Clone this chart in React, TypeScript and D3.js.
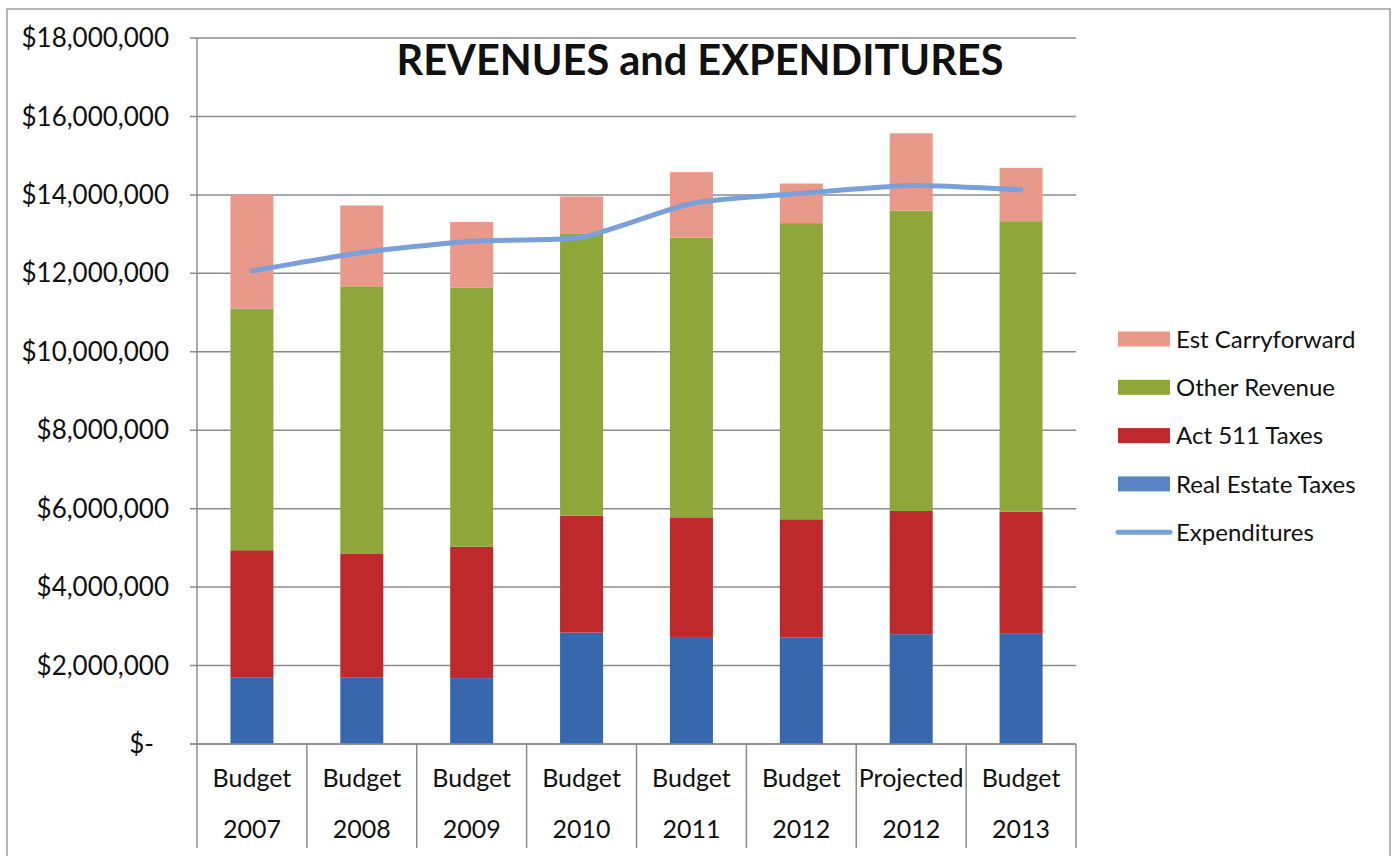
import { useEffect, useRef } from "react";
import * as d3 from "d3";

const categories = [
  ["Budget", "2007"],
  ["Budget", "2008"],
  ["Budget", "2009"],
  ["Budget", "2010"],
  ["Budget", "2011"],
  ["Budget", "2012"],
  ["Projected", "2012"],
  ["Budget", "2013"],
];

// values in $ millions, bottom of the stack first
const realEstateTaxes = [1.69, 1.69, 1.68, 2.84, 2.73, 2.72, 2.8, 2.81];
const act511Taxes = [3.25, 3.17, 3.35, 2.98, 3.05, 3.01, 3.14, 3.11];
const otherRevenue = [6.16, 6.81, 6.61, 7.2, 7.13, 7.55, 7.66, 7.41];
const estCarryforward = [2.91, 2.06, 1.67, 0.94, 1.67, 1.01, 1.97, 1.36];
const expenditures = [12.06, 12.53, 12.82, 12.92, 13.78, 14.04, 14.24, 14.13];

const yTicks = [0, 2, 4, 6, 8, 10, 12, 14, 16, 18];

const seriesNames = ["Real Estate Taxes", "Act 511 Taxes", "Other Revenue", "Est Carryforward"];
const barColors = ["#3768ae", "#be2a2c", "#8fa63a", "#e8998a"];
const legendColors = ["#5a84c4", "#be2a2c", "#8fa63a", "#e8998a"];
const lineColor = "#7aa0da";

const FONT = "Lato, 'Open Sans', sans-serif";

const App = () => {
  const svgRef = useRef<SVGSVGElement>(null);

  useEffect(() => {
    document.body.style.margin = "0";
    const svg = d3.select(svgRef.current);
    svg.selectAll("*").remove();

    const width = 1393;
    const height = 856;
    const left = 197;
    const right = 1076;
    const top = 38;
    const bottom = 744;
    const tableBottom = 848;

    svg.attr("width", width).attr("height", height);

    // outer chart frame
    svg
      .append("rect")
      .attr("x", 7)
      .attr("y", 9)
      .attr("width", 1383)
      .attr("height", 870)
      .attr("fill", "#fff")
      .attr("stroke", "#a0a0a0")
      .attr("stroke-width", 1.5);

    const idx = categories.map((_, i) => String(i));
    const x = d3.scaleBand().domain(idx).range([left, right]).paddingInner(0).paddingOuter(0);
    const y = d3.scaleLinear().domain([0, 18]).range([bottom, top]);

    // gridlines
    svg
      .append("g")
      .selectAll("line")
      .data(yTicks)
      .join("line")
      .attr("x1", left - 7)
      .attr("x2", right)
      .attr("y1", (d) => y(d))
      .attr("y2", (d) => y(d))
      .attr("stroke", "#8c8c8c")
      .attr("stroke-width", 1.5);

    // y labels
    svg
      .append("g")
      .selectAll("text")
      .data(yTicks)
      .join("text")
      .attr("x", (d) => (d === 0 ? 154 : 169))
      .attr("y", (d) => y(d))
      .attr("dy", "0.35em")
      .attr("text-anchor", "end")
      .style("font-family", FONT)
      .style("font-size", "26px")
      .attr("fill", "#111")
      .text((d) => (d === 0 ? "$-" : "$" + d3.format(",")(d * 1000000)));

    // stacked bars
    const rows = categories.map((_, i) => ({
      key: String(i),
      re: realEstateTaxes[i],
      act: act511Taxes[i],
      other: otherRevenue[i],
      carry: estCarryforward[i],
    }));
    const stack = d3.stack<any>().keys(["re", "act", "other", "carry"]);
    const layers = stack(rows);
    const barW = 43;

    svg
      .append("g")
      .selectAll("g")
      .data(layers)
      .join("g")
      .attr("fill", (_, i) => barColors[i])
      .selectAll("rect")
      .data((d) => d)
      .join("rect")
      .attr("x", (d) => x(d.data.key)! + x.bandwidth() / 2 - barW / 2)
      .attr("width", barW)
      .attr("y", (d) => y(d[1]))
      .attr("height", (d) => y(d[0]) - y(d[1]));

    // expenditures line
    const line = d3
      .line<number>()
      .x((_, i) => x(String(i))! + x.bandwidth() / 2)
      .y((d) => y(d))
      .curve(d3.curveCardinal.tension(0.4));
    svg
      .append("path")
      .datum(expenditures)
      .attr("d", line)
      .attr("fill", "none")
      .attr("stroke", lineColor)
      .attr("stroke-width", 5)
      .attr("stroke-linecap", "round");

    // axes and category table
    svg
      .append("line")
      .attr("x1", left - 7)
      .attr("x2", right)
      .attr("y1", bottom)
      .attr("y2", bottom)
      .attr("stroke", "#8c8c8c")
      .attr("stroke-width", 1.5);
    svg
      .append("line")
      .attr("x1", left)
      .attr("x2", left)
      .attr("y1", top)
      .attr("y2", tableBottom)
      .attr("stroke", "#8c8c8c")
      .attr("stroke-width", 1.5);
    svg
      .append("g")
      .selectAll("line")
      .data(d3.range(1, categories.length + 1))
      .join("line")
      .attr("x1", (i) => left + i * x.bandwidth())
      .attr("x2", (i) => left + i * x.bandwidth())
      .attr("y1", bottom)
      .attr("y2", tableBottom)
      .attr("stroke", "#8c8c8c")
      .attr("stroke-width", 1.5);

    const catLabels = svg
      .append("g")
      .selectAll("text")
      .data(categories)
      .join("text")
      .attr("text-anchor", "middle")
      .style("font-family", FONT)
      .style("font-size", "25px")
      .attr("fill", "#111");
    catLabels
      .append("tspan")
      .attr("x", (_, i) => x(String(i))! + x.bandwidth() / 2)
      .attr("y", 787)
      .text((d) => d[0]);
    catLabels
      .append("tspan")
      .attr("x", (_, i) => x(String(i))! + x.bandwidth() / 2)
      .attr("y", 838)
      .text((d) => d[1]);

    // title
    svg
      .append("text")
      .attr("x", 700)
      .attr("y", 75)
      .attr("text-anchor", "middle")
      .style("font-family", FONT)
      .style("font-size", "41.5px")
      .style("font-weight", "bold")
      .attr("fill", "#111")
      .text("REVENUES and EXPENDITURES");

    // legend
    const legendItems = [
      { name: seriesNames[3], color: legendColors[3], type: "rect" },
      { name: seriesNames[2], color: legendColors[2], type: "rect" },
      { name: seriesNames[1], color: legendColors[1], type: "rect" },
      { name: seriesNames[0], color: legendColors[0], type: "rect" },
      { name: "Expenditures", color: lineColor, type: "line" },
    ];
    const lg = svg
      .append("g")
      .selectAll("g")
      .data(legendItems)
      .join("g")
      .attr("transform", (_, i) => `translate(1118, ${339 + i * 48.3})`);
    lg.filter((d) => d.type === "rect")
      .append("rect")
      .attr("x", 0)
      .attr("y", -7.5)
      .attr("width", 52)
      .attr("height", 15)
      .attr("fill", (d) => d.color);
    lg.filter((d) => d.type === "line")
      .append("line")
      .attr("x1", 0)
      .attr("x2", 52)
      .attr("stroke", (d) => d.color)
      .attr("stroke-width", 5)
      .attr("stroke-linecap", "round");
    lg.append("text")
      .attr("x", 58)
      .attr("dy", "0.36em")
      .style("font-family", FONT)
      .style("font-size", "24px")
      .attr("fill", "#111")
      .text((d) => d.name);
  }, []);

  return <svg ref={svgRef} style={{ display: "block" }} />;
};

export default App;
